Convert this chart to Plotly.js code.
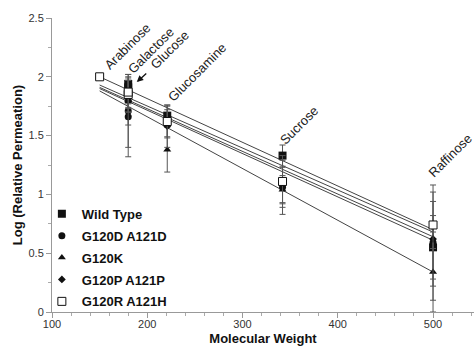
<!DOCTYPE html>
<html>
<head>
<meta charset="utf-8">
<script src="https://cdn.plot.ly/plotly-3.0.1.min.js"></script>
<style>html,body{margin:0;padding:0;background:#fff;}#chart{width:474px;height:346px;}</style>
</head>
<body>
<div id="chart"></div>
<script>
// Series names
const seriesNames = ["Wild Type", "G120D A121D", "G120K", "G120P A121P", "G120R A121H"];

// Molecular weights of the sugars (x values)
const mwStd = [180, 180, 221, 342, 500];          // galactose, glucose, glucosamine, sucrose, raffinose
const mwR = [150, 180, 180, 221, 342, 500];        // arabinose + the above

// Log (Relative Permeation) values and error bars
const wtY = [1.94, 1.91, 1.67, 1.33, 0.55];
const wtErr = [0.08, 0.05, 0.09, 0.09, 0.27];
const ddY = [1.71, 1.66, 1.60, 1.06, 0.59];
const ddErr = [0.31, 0.34, 0.12, 0.23, 0.49];
const kY = [1.79, 1.80, 1.38, 1.04, 0.34];
const kErr = [0.20, 0.10, 0.19, 0.12, 0.34];
const ppY = [1.80, 1.82, 1.58, 1.08, 0.62];
const ppErr = [0.10, 0.08, 0.18, 0.15, 0.40];
const rhY = [2.00, 1.85, 1.87, 1.62, 1.11, 0.74];
const rhErr = [0, 0.12, 0.10, 0.13, 0.22, 0.20];

// Linear fit lines at MW 150 and 500
const fitX = [150, 500];
const fitWT = [1.93, 0.68];
const fitDD = [1.91, 0.64];
const fitK = [1.88, 0.34];
const fitPP = [1.90, 0.61];
const fitRH = [2.00, 0.70];

// Sugar labels (label centres)
const sugarNames = ["Arabinose", "Galactose", "Glucose", "Glucosamine", "Sucrose", "Raffinose"];
const sugarLabelX = [179, 204, 224, 252, 359, 518];
const sugarLabelY = [2.26, 2.22, 2.23, 2.04, 1.59, 1.33];

const ink = "#111";
const errStyle = (arr) => ({type: "data", array: arr, visible: true, color: "#555", thickness: 1, width: 3});

const pts = [
  {x: mwStd, y: wtY, err: wtErr, sym: "square", size: 8, fill: ink, lw: 0},
  {x: mwStd, y: ddY, err: ddErr, sym: "circle", size: 7, fill: ink, lw: 0},
  {x: mwStd, y: kY, err: kErr, sym: "triangle-up", size: 7, fill: ink, lw: 0},
  {x: mwStd, y: ppY, err: ppErr, sym: "diamond", size: 6, fill: ink, lw: 0},
  {x: mwR, y: rhY, err: rhErr, sym: "square", size: 8, fill: "#fff", lw: 1}
];
const fits = [fitWT, fitDD, fitK, fitPP, fitRH];

const traces = [];
fits.forEach((f, i) => {
  traces.push({x: fitX, y: f, mode: "lines", type: "scatter", showlegend: false,
    line: {color: "#444", width: 1}, hoverinfo: "skip"});
});
pts.forEach((p, i) => {
  traces.push({x: p.x, y: p.y, mode: "markers", type: "scatter", name: seriesNames[i],
    legendgroup: "g" + i,
    error_y: errStyle(p.err),
    marker: {symbol: p.sym, size: p.size, color: p.fill, line: {color: ink, width: p.lw}}});
});

const annotations = sugarNames.map((s, i) => ({
  x: sugarLabelX[i], y: sugarLabelY[i], xref: "x", yref: "y",
  text: s, showarrow: false, textangle: -45,
  xanchor: "center", yanchor: "middle",
  font: {family: "Liberation Sans, Arial, sans-serif", size: 13, color: "#222"}
}));
// arrow pointing to glucose
annotations.push({x: 189, y: 1.955, xref: "x", yref: "y", text: "", showarrow: true,
  ax: 11, ay: -10, arrowhead: 2, arrowsize: 1, arrowwidth: 1.3, arrowcolor: "#111"});

const layout = {
  width: 474, height: 346,
  margin: {l: 52, r: 0, t: 18, b: 34, pad: 0},
  paper_bgcolor: "#fff", plot_bgcolor: "#fff",
  font: {family: "Liberation Sans, Arial, sans-serif", size: 11, color: "#333"},
  showlegend: true,
  legend: {x: -0.024, y: 0.385, xanchor: "left", yanchor: "top", bgcolor: "rgba(0,0,0,0)",
    traceorder: "grouped", tracegroupgap: 2,
    font: {family: "Liberation Sans, Arial, sans-serif", size: 13, color: "#111", weight: "bold"}},
  xaxis: {range: [100, 543], tickvals: [100, 200, 300, 400, 500], showgrid: false, zeroline: false,
    showline: true, linecolor: "#999", linewidth: 1, ticks: "outside", ticklen: 5, tickcolor: "#999",
    ticklabelstandoff: -3,
    minor: {dtick: 20, ticks: "outside", ticklen: 3, tickcolor: "#aaa"},
    title: {text: "Molecular Weight", standoff: 4,
      font: {family: "Liberation Sans, Arial, sans-serif", size: 13, color: "#111", weight: "bold"}}},
  yaxis: {range: [0, 2.5], tickvals: [0, 0.5, 1, 1.5, 2, 2.5], ticktext: ["0", "0.5", "1", "1.5", "2", "2.5"],
    showgrid: false, zeroline: false,
    showline: true, linecolor: "#999", linewidth: 1, ticks: "outside", ticklen: 5, tickcolor: "#999",
    minor: {dtick: 0.25, ticks: "outside", ticklen: 3, tickcolor: "#aaa"},
    title: {text: "Log (Relative Permeation)", standoff: 2,
      font: {family: "Liberation Sans, Arial, sans-serif", size: 13, color: "#111", weight: "bold"}}},
  annotations: annotations
};

Plotly.newPlot("chart", traces, layout, {displayModeBar: false, staticPlot: true});
</script>
</body>
</html>
